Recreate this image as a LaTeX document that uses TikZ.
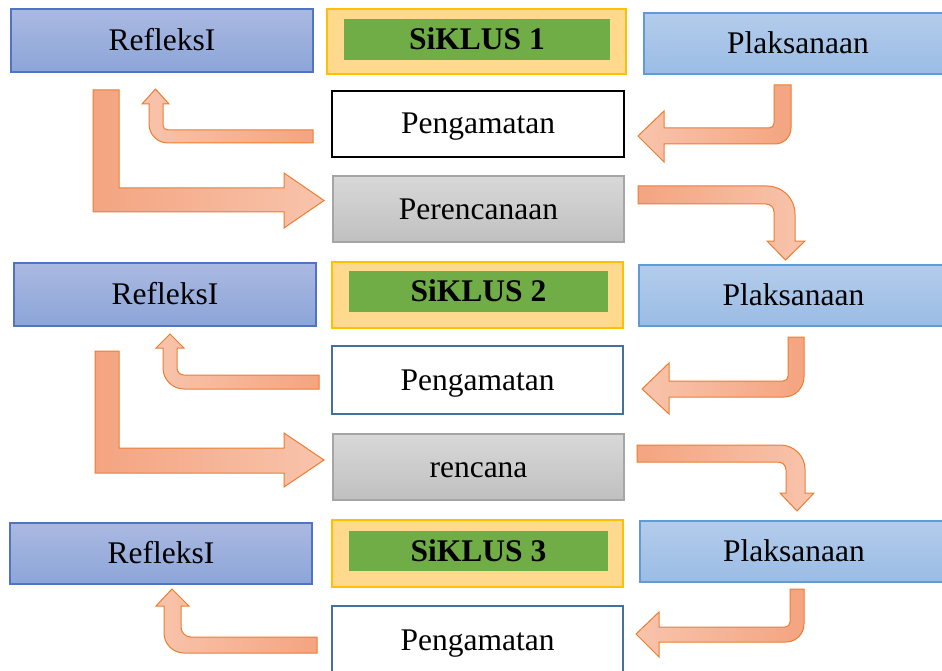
\documentclass[tikz,border=0pt]{standalone}
\usepackage{fontspec}
\setmainfont{Liberation Serif}
\definecolor{refTop}{RGB}{170,185,225}
\definecolor{refBot}{RGB}{140,165,216}
\definecolor{refLine}{RGB}{80,115,196}
\definecolor{plkTop}{RGB}{180,204,235}
\definecolor{plkBot}{RGB}{154,188,229}
\definecolor{plkLine}{RGB}{95,155,213}
\definecolor{sikFill}{RGB}{255,217,141}
\definecolor{sikLine}{RGB}{255,192,0}
\definecolor{sikGreen}{RGB}{112,173,71}
\definecolor{obsLine}{RGB}{65,113,156}
\definecolor{plnTop}{RGB}{216,216,216}
\definecolor{plnBot}{RGB}{192,192,192}
\definecolor{plnLine}{RGB}{165,165,165}
\definecolor{arrDark}{RGB}{244,164,128}
\definecolor{arrLight}{RGB}{248,196,172}
\definecolor{arrLine}{RGB}{237,125,49}
\tikzset{
  box/.style={rectangle, inner sep=0pt, font=\fontsize{31.5}{36}\selectfont,
    text height=24pt, text depth=4pt, line width=1.2pt},
  refbox/.style={box, draw=refLine, top color=refTop, bottom color=refBot},
  plkbox/.style={box, draw=plkLine, top color=plkTop, bottom color=plkBot},
  sikbox/.style={rectangle, inner sep=0pt, draw=sikLine, fill=sikFill, line width=1.2pt},
  sikin/.style={box, fill=sikGreen, font=\fontsize{31.5}{36}\selectfont\bfseries},
  obsbox/.style={box, draw=obsLine, fill=white, line width=2pt},
  plnbox/.style={box, draw=plnLine, top color=plnTop, bottom color=plnBot},
  blockarrow/.style={draw=arrLine, line width=1pt, line join=miter},
}
\begin{document}
\begin{tikzpicture}[x=1pt, y=-1pt]
\useasboundingbox (0,0) rectangle (942,671);

% ---- cycle 1 ----
\node[refbox, minimum width=302pt, minimum height=63pt] (r1) at (162,40.5) {RefleksI};
\node[sikbox, minimum width=299pt, minimum height=65pt] (s1) at (476.5,41.5) {};
\node[sikin, minimum width=266pt, minimum height=41pt] (s1t) at (477,39.5) {SiKLUS 1};
\node[plkbox, minimum width=308pt, minimum height=61pt] (p1) at (798,43.5) {Plaksanaan};
\node[box, draw=black, fill=white, line width=2.2pt, minimum width=292pt, minimum height=66pt] (g1) at (478,124) {Pengamatan};
\node[plnbox, minimum width=291pt, minimum height=66pt] (c1) at (478.5,209) {Perencanaan};

% observation -> reflection (bent up)
\draw[blockarrow, left color=arrLight, right color=arrDark]
  (313,130) -- (168,130) .. controls (165,130) and (163,128) .. (163,125) -- (163,104)
  -- (169,104) -- (155.5,89) -- (142,104) -- (149,104) -- (149,124)
  .. controls (149,134.5) and (157.5,143) .. (168,143) -- (313,143) -- cycle;
% reflection -> planning (L shape)
\draw[blockarrow, left color=arrDark, right color=arrLight]
  (93,90) -- (119,90) -- (119,188) -- (284,188) -- (284,173) -- (324,200.5)
  -- (284,228) -- (284,212) -- (93,212) -- cycle;
% action -> observation
\draw[blockarrow, left color=arrLight, right color=arrDark]
  (774,85) -- (791,85) -- (791,128) .. controls (791,136.8) and (783.8,144) .. (775,144)
  -- (664,144) -- (664,162) -- (638,136) -- (664,111) -- (664,128) -- (769,128)
  .. controls (772,128) and (774,126) .. (774,123) -- cycle;
% planning -> action of cycle 2
\draw[blockarrow, left color=arrDark, right color=arrLight]
  (638,186) -- (767,186) .. controls (782.5,186) and (795,198.5) .. (795,214) -- (795,241)
  -- (805,241) -- (785.5,260) -- (767,241) -- (774,241) -- (774,212)
  .. controls (774,207.6) and (770.4,204) .. (766,204) -- (638,204) -- cycle;

% ---- cycle 2 ----
\node[refbox, minimum width=302pt, minimum height=63pt] (r2) at (165,294.5) {RefleksI};
\node[sikbox, minimum width=291pt, minimum height=66pt] (s2) at (477.5,295) {};
\node[sikin, minimum width=259pt, minimum height=41pt] (s2t) at (478.5,291.5) {SiKLUS 2};
\node[plkbox, minimum width=309pt, minimum height=61pt] (p2) at (793.5,295.5) {Plaksanaan};
\node[obsbox, minimum width=291pt, minimum height=68pt] (g2) at (477.5,380) {Pengamatan};
\node[plnbox, minimum width=291pt, minimum height=66pt] (c2) at (478.5,467) {rencana};

\draw[blockarrow, left color=arrLight, right color=arrDark]
  (319,375) -- (184,375) .. controls (180,375) and (177,372) .. (177,368) -- (177,348)
  -- (184,348) -- (170,334) -- (156,348) -- (163,348) -- (163,368)
  .. controls (163,379.6) and (172.4,389) .. (184,389) -- (319,389) -- cycle;
\draw[blockarrow, left color=arrDark, right color=arrLight]
  (95,351) -- (119,351) -- (119,448) -- (284,448) -- (284,433) -- (324,460)
  -- (284,487) -- (284,473) -- (95,473) -- cycle;
\draw[blockarrow, left color=arrLight, right color=arrDark]
  (788,337) -- (804,337) -- (804,377) .. controls (804,388) and (795,397) .. (784,397)
  -- (669,397) -- (669,414) -- (642,389) -- (669,363) -- (669,381) -- (783,381)
  .. controls (786,381) and (788,379) .. (788,376) -- cycle;
\draw[blockarrow, left color=arrDark, right color=arrLight]
  (637,445) -- (780,445) .. controls (794,445) and (805,456) .. (805,469) -- (805,493)
  -- (814,493) -- (797,511) -- (780,493) -- (786,493) -- (786,470)
  .. controls (786,465.5) and (782.5,462) .. (778,462) -- (637,462) -- cycle;

% ---- cycle 3 ----
\node[refbox, minimum width=302pt, minimum height=61pt] (r3) at (161,553.5) {RefleksI};
\node[sikbox, minimum width=291pt, minimum height=67pt] (s3) at (477.5,553.5) {};
\node[sikin, minimum width=259pt, minimum height=40pt] (s3t) at (478.5,551) {SiKLUS 3};
\node[plkbox, minimum width=308pt, minimum height=61pt] (p3) at (794,551.5) {Plaksanaan};
\node[obsbox, minimum width=291pt, minimum height=68pt] (g3) at (477.5,640) {Pengamatan};

\draw[blockarrow, left color=arrLight, right color=arrDark]
  (317,637) -- (191,637) .. controls (185.5,637) and (181,632.5) .. (181,627) -- (181,606)
  -- (189,606) -- (172,589) -- (156,606) -- (164,606) -- (164,633)
  .. controls (164,644) and (173,653) .. (184,653) -- (317,653) -- cycle;
\draw[blockarrow, left color=arrLight, right color=arrDark]
  (790,589) -- (804,589) -- (804,624) .. controls (804,634) and (796,642) .. (786,642)
  -- (659,642) -- (659,657) -- (636,634) -- (659,612) -- (659,627) -- (785,627)
  .. controls (788,627) and (790,625) .. (790,622) -- cycle;
\end{tikzpicture}
\end{document}
